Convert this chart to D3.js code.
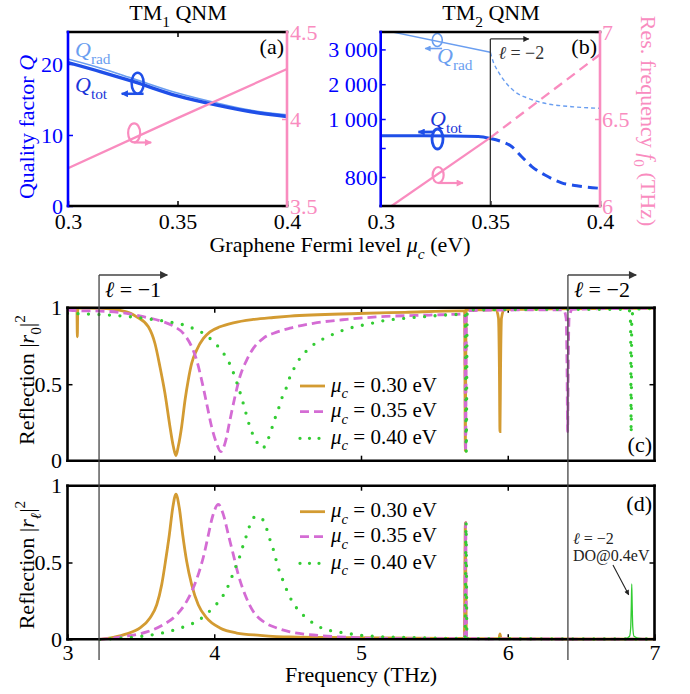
<!DOCTYPE html>
<html><head><meta charset="utf-8">
<script src="https://cdn.jsdelivr.net/npm/d3@7/dist/d3.min.js"></script>
<style>
body{margin:0;background:#fff;}
svg{display:block;}
text{font-family:"Liberation Serif","Times New Roman",Times,serif;}
</style></head><body>
<svg id="chart" width="690" height="694"></svg>
<script>
// ================= DATA =================
// Panel (a): TM1 QNM
const muA = [0.30, 0.315, 0.33, 0.35, 0.368, 0.383, 0.40];
const qTotA = [20.2, 18.9, 17.5, 15.5, 14.2, 13.3, 12.6];
const qRadA = [20.7, 19.4, 17.9, 15.9, 14.5, 13.5, 12.85];
const muF0A = [0.30, 0.35, 0.40];
const f0A = [3.717, 4.005, 4.287];
const qTicksA = [0, 10, 20];
const fTicksA = [3.5, 4, 4.5];
const muTicks = [0.3, 0.35, 0.4];

// Panel (b): TM2 QNM
const muQtotBSolid = [0.30, 0.32, 0.3445, 0.35];
const qTotBSolid = [942, 942, 940, 933];
const muQtotBDash = [0.35, 0.3552, 0.3597, 0.3643, 0.3689, 0.3749, 0.3825, 0.3901, 0.40];
const qTotBDash = [933, 922, 905, 870, 836, 807, 780, 769, 761];
const muQradBSolid = [0.30, 0.35];
const qRadBSolid = [3570, 2917];
const muQradBDash = [0.35, 0.3513, 0.3536, 0.3567, 0.3612, 0.3673, 0.3749, 0.3871, 0.40];
const qRadBDash = [2917, 2647, 2359, 2072, 1784, 1595, 1451, 1354, 1307];
const muF0BSolid = [0.30, 0.35];
const f0BSolid = [5.957, 6.393];
const muF0BDash = [0.35, 0.40];
const f0BDash = [6.393, 6.871];
const qTicksB = [800, 900, 1000, 2000, 3000];
const fTicksB = [6, 6.5, 7];

// Panel (c): |r0|^2
const fC30 = [3.00, 3.064, 3.067, 3.070, 3.221, 3.403, 3.471, 3.551, 3.596, 3.630, 3.664, 3.698, 3.721, 3.739, 3.755, 3.778, 3.801, 3.823, 3.846, 3.880, 3.926, 3.971, 4.039, 4.130, 4.266, 4.403, 4.516, 4.983, 5.30, 5.683, 5.706, 5.711, 5.716, 5.75, 5.92, 5.937, 5.943, 5.947, 5.951, 5.957, 5.975, 6.30, 6.70, 7.00];
const rC30 = [0.997, 0.997, 0.81, 0.997, 0.996, 0.973, 0.94, 0.875, 0.766, 0.614, 0.441, 0.224, 0.094, 0.033, 0.094, 0.224, 0.397, 0.528, 0.636, 0.723, 0.799, 0.842, 0.875, 0.901, 0.923, 0.936, 0.945, 0.962, 0.970, 0.979, 0.979, 0.063, 0.985, 0.986, 0.987, 0.93, 0.60, 0.19, 0.60, 0.93, 0.988, 0.992, 0.995, 0.996];
const fC35 = [3.00, 3.085, 3.221, 3.403, 3.517, 3.630, 3.721, 3.789, 3.846, 3.880, 3.914, 3.948, 3.982, 4.016, 4.044, 4.073, 4.107, 4.141, 4.175, 4.221, 4.266, 4.334, 4.425, 4.516, 4.675, 4.903, 5.13, 5.47, 5.69, 5.707, 5.713, 5.719, 5.80, 6.00, 6.38, 6.398, 6.404, 6.408, 6.412, 6.418, 6.44, 6.70, 7.00];
const rC35 = [0.985, 0.98, 0.978, 0.963, 0.941, 0.915, 0.880, 0.832, 0.745, 0.658, 0.527, 0.375, 0.222, 0.113, 0.059, 0.113, 0.266, 0.418, 0.549, 0.658, 0.734, 0.800, 0.840, 0.866, 0.898, 0.924, 0.941, 0.952, 0.959, 0.96, 0.06, 0.98, 0.982, 0.985, 0.986, 0.93, 0.60, 0.19, 0.60, 0.93, 0.99, 0.994, 0.996];
const fC40 = [3.00, 3.131, 3.278, 3.426, 3.574, 3.721, 3.801, 3.869, 3.937, 3.994, 4.046, 4.085, 4.119, 4.146, 4.169, 4.191, 4.212, 4.232, 4.255, 4.289, 4.328, 4.369, 4.414, 4.441, 4.464, 4.494, 4.516, 4.55, 4.589, 4.641, 4.698, 4.766, 4.834, 4.903, 4.982, 5.05, 5.13, 5.29, 5.425, 5.572, 5.71, 5.717, 5.724, 6.00, 6.50, 6.826, 6.837, 6.841, 6.845, 6.856, 7.00];
const rC40 = [0.963, 0.959, 0.952, 0.941, 0.924, 0.902, 0.885, 0.859, 0.826, 0.778, 0.724, 0.669, 0.604, 0.532, 0.467, 0.397, 0.325, 0.255, 0.190, 0.124, 0.081, 0.146, 0.277, 0.349, 0.418, 0.484, 0.549, 0.614, 0.676, 0.728, 0.774, 0.806, 0.837, 0.861, 0.880, 0.893, 0.911, 0.930, 0.941, 0.952, 0.957, 0.06, 0.985, 0.988, 0.99, 0.99, 0.90, 0.18, 0.90, 0.99, 0.995];

// Panel (d): |r_l|^2
const fD30 = [3.217, 3.312, 3.403, 3.494, 3.562, 3.608, 3.642, 3.671, 3.694, 3.717, 3.739, 3.762, 3.785, 3.812, 3.846, 3.891, 3.948, 4.039, 4.153, 4.312, 4.516, 4.903, 5.584, 5.704, 5.711, 5.718, 5.94, 5.947, 5.954, 6.40, 7.00];
const rD30 = [0.0, 0.013, 0.035, 0.074, 0.139, 0.225, 0.356, 0.529, 0.681, 0.855, 0.945, 0.855, 0.681, 0.508, 0.356, 0.225, 0.139, 0.074, 0.041, 0.026, 0.015, 0.011, 0.006, 0.006, 0.76, 0.005, 0.004, 0.035, 0.004, 0.002, 0.001];
const fD35 = [3.217, 3.403, 3.54, 3.653, 3.744, 3.812, 3.857, 3.898, 3.930, 3.960, 3.989, 4.028, 4.062, 4.096, 4.130, 4.164, 4.210, 4.266, 4.334, 4.425, 4.516, 4.675, 4.903, 5.13, 5.584, 5.706, 5.713, 5.72, 7.00];
const rD35 = [0.0, 0.02, 0.048, 0.095, 0.16, 0.247, 0.334, 0.442, 0.551, 0.681, 0.801, 0.878, 0.812, 0.681, 0.551, 0.420, 0.290, 0.181, 0.116, 0.074, 0.048, 0.028, 0.013, 0.006, 0.004, 0.004, 0.76, 0.004, 0.001];
const fD40 = [3.221, 3.369, 3.517, 3.664, 3.812, 3.880, 3.942, 3.994, 4.046, 4.085, 4.114, 4.141, 4.169, 4.191, 4.214, 4.237, 4.271, 4.30, 4.323, 4.357, 4.380, 4.403, 4.421, 4.443, 4.471, 4.498, 4.532, 4.573, 4.625, 4.687, 4.755, 4.83, 4.903, 4.982, 5.13, 5.357, 5.584, 5.709, 5.716, 5.722, 6.41, 7.00];
const rD40 = [0.0, 0.008, 0.021, 0.045, 0.088, 0.116, 0.160, 0.208, 0.264, 0.327, 0.392, 0.460, 0.525, 0.594, 0.659, 0.728, 0.794, 0.80, 0.789, 0.720, 0.648, 0.583, 0.518, 0.446, 0.377, 0.312, 0.245, 0.19, 0.141, 0.097, 0.065, 0.05, 0.039, 0.028, 0.017, 0.011, 0.006, 0.006, 0.76, 0.005, 0.003, 0.002];
const fDO = [6.41, 6.80, 6.83, 6.838, 6.842, 6.845, 6.848, 6.852, 6.86, 6.90, 7.00];
const rDO = [0.002, 0.004, 0.02, 0.08, 0.22, 0.36, 0.22, 0.08, 0.02, 0.006, 0.003];

const freqTicks = [3, 4, 5, 6, 7];
const rTicks = [0, 0.5, 1];
const legendLabels = ['0.30', '0.35', '0.40'];
const orderOnset = [3.215, 6.41]; // diffraction order onsets l=-1, l=-2

// ================= STYLE =================
const FONT = '"Liberation Serif","Times New Roman",Times,serif';
const BLUE = '#0000ff', QTOT = '#1f4fe8', QRAD = '#6a9ef0', PINK = '#f98cbf';
const GOLD = '#d39b32', MAG = '#d46cd4', GRN = '#33cc33', GRAY = '#444';

const svg = d3.select('#chart');
const defs = svg.append('defs');
function marker(id, color, w, h) {
  defs.append('marker').attr('id', id).attr('viewBox', '0 0 10 10')
    .attr('refX', 9).attr('refY', 5).attr('markerWidth', w).attr('markerHeight', h)
    .attr('markerUnits', 'userSpaceOnUse').attr('orient', 'auto')
    .append('path').attr('d', 'M0,0 L10,5 L0,10 z').attr('fill', color);
}
marker('arrK', '#333', 14, 8);
marker('arrK2', '#222', 11, 6);
marker('arrK3', '#222', 8, 5);
marker('arrBlue', QTOT, 10, 7);
marker('arrLB', QRAD, 9, 6);
marker('arrPink', PINK, 10, 7);

const PA = {x0: 68, x1: 287, y0: 32, y1: 206};
const PB = {x0: 380.7, x1: 600, y0: 32, y1: 206};
const PC = {x0: 67.5, x1: 654.5, y0: 307.7, y1: 460.7};
const PD = {x0: 67.5, x1: 654.5, y0: 485.7, y1: 639.3};

function clip(id, p, pad) {
  defs.append('clipPath').attr('id', id).append('rect')
    .attr('x', p.x0).attr('y', p.y0 - pad).attr('width', p.x1 - p.x0).attr('height', p.y1 - p.y0 + 2 * pad);
}
clip('clipA', PA, 0); clip('clipB', PB, 0); clip('clipC', PC, 2); clip('clipD', PD, 2);

const xA = d3.scaleLinear().domain([0.3, 0.4]).range([PA.x0, PA.x1]);
const yAL = d3.scaleLinear().domain([0, 24.5]).range([PA.y1, PA.y0]);
const yAR = d3.scaleLinear().domain([3.5, 4.5]).range([PA.y1, PA.y0]);
const xB = d3.scaleLinear().domain([0.3, 0.4]).range([PB.x0, PB.x1]);
const yBL = d3.scaleLinear().domain([700, 1000, 3500]).range([PB.y1, (PB.y0 + PB.y1) / 2, PB.y0]);
const yBR = d3.scaleLinear().domain([6, 7]).range([PB.y1, PB.y0]);
const xC = d3.scaleLinear().domain([3, 7]).range([PC.x0, PC.x1]);
const yC = d3.scaleLinear().domain([0, 1]).range([PC.y1, PC.y0]);
const yD = d3.scaleLinear().domain([0, 1]).range([PD.y1, PD.y0]);

function path(xs, ys, sx, sy) {
  return d3.line().x((d, i) => sx(xs[i])).y((d, i) => sy(ys[i])).curve(d3.curveMonotoneX)(xs);
}
function drawLine(g, xs, ys, sx, sy, st) {
  const p = g.append('path').attr('d', path(xs, ys, sx, sy)).attr('fill', 'none')
    .attr('stroke', st.color).attr('stroke-width', st.w);
  if (st.dash) p.attr('stroke-dasharray', st.dash);
  if (st.cap) p.attr('stroke-linecap', st.cap);
  return p;
}

function richText(sel, x, y, parts, o) {
  const t = sel.append('text').attr('x', x).attr('y', y).attr('font-size', o.size)
    .attr('fill', o.fill || '#000').attr('text-anchor', o.anchor || 'start');
  if (o.transform) t.attr('transform', o.transform);
  let shift = 0;
  parts.forEach(p => {
    const ts = t.append('tspan').text(p.t);
    const target = p.sub ? 0.3 * o.size : (p.sup ? -0.42 * o.size : 0);
    if (target !== shift) { ts.attr('dy', target - shift); shift = target; }
    if (p.sub || p.sup) ts.attr('font-size', o.size * 0.7);
    if (p.i) ts.attr('font-style', 'italic');
  });
  return t;
}

function styleAxis(g, color, size) {
  g.attr('font-family', FONT).attr('font-size', size);
  g.select('.domain').remove();
  g.selectAll('.tick line').attr('stroke', color).attr('stroke-width', 1.5);
  g.selectAll('.tick text').attr('fill', color);
}
function frameLine(x1, y1, x2, y2, color) {
  svg.append('line').attr('x1', x1).attr('y1', y1).attr('x2', x2).attr('y2', y2)
    .attr('stroke', color).attr('stroke-width', 2.6).attr('stroke-linecap', 'square');
}

// ================= PANEL (a) =================
const gA = svg.append('g');
gA.append('g').attr('transform', `translate(${PA.x0},0)`)
  .call(d3.axisLeft(yAL).tickValues(qTicksA).tickSize(-5).tickPadding(5).tickFormat(d3.format('d')))
  .call(g => styleAxis(g, BLUE, 22));
gA.append('g').attr('transform', `translate(${PA.x1},0)`)
  .call(d3.axisRight(yAR).tickValues(fTicksA).tickSize(-5).tickPadding(3).tickFormat(d => d))
  .call(g => styleAxis(g, PINK, 22));
gA.append('g').attr('transform', `translate(0,${PA.y1})`)
  .call(d3.axisBottom(xA).tickValues(muTicks).tickSize(-5).tickPadding(7.5).tickFormat(d => d))
  .call(g => styleAxis(g, '#000', 22));
gA.append('g').attr('transform', `translate(0,${PA.y0})`)
  .call(d3.axisTop(xA).tickValues([0.35]).tickSize(-5).tickFormat(''))
  .call(g => styleAxis(g, '#000', 22));
const cA = gA.append('g').attr('clip-path', 'url(#clipA)');
drawLine(cA, muA, qRadA, xA, yAL, {color: QRAD, w: 1.6});
drawLine(cA, muA, qTotA, xA, yAL, {color: QTOT, w: 3.4});
drawLine(cA, muF0A, f0A, xA, yAR, {color: PINK, w: 2.3});
frameLine(PA.x0, PA.y0, PA.x1, PA.y0, '#000');
frameLine(PA.x0, PA.y1, PA.x1, PA.y1, '#000');
frameLine(PA.x0, PA.y0, PA.x0, PA.y1, BLUE);
frameLine(PA.x1, PA.y0, PA.x1, PA.y1, PINK);

richText(svg, 178, 20, [{t: 'TM'}, {t: '1', sub: true}, {t: ' QNM'}], {size: 22, anchor: 'middle'});
richText(svg, 284, 54, [{t: '(a)'}], {size: 22, anchor: 'end'});
richText(svg, 75, 57, [{t: 'Q', i: true}, {t: 'rad', sub: true}], {size: 22, fill: QRAD});
richText(svg, 75, 92, [{t: 'Q', i: true}, {t: 'tot', sub: true}], {size: 22, fill: '#1a35d8'});

function curl(g, cx, cy, rx, ry, tx1, ty1, tx2, color, w, mk) {
  g.append('ellipse').attr('cx', cx).attr('cy', cy).attr('rx', rx).attr('ry', ry)
    .attr('fill', 'none').attr('stroke', color).attr('stroke-width', w);
  g.append('line').attr('x1', tx1).attr('y1', ty1).attr('x2', tx2).attr('y2', ty1)
    .attr('stroke', color).attr('stroke-width', w).attr('marker-end', `url(#${mk})`);
}
curl(gA, xA(0.3318), yAL(17.3), 6, 10.5, xA(0.3345), yAL(15.8), xA(0.3245), QTOT, 2.5, 'arrBlue');
curl(gA, xA(0.3302), yAR(3.92), 6, 9.5, xA(0.3302), yAR(3.865), xA(0.3380), PINK, 2.2, 'arrPink');

// ================= PANEL (b) =================
const gB = svg.append('g');
gB.append('g').attr('transform', `translate(${PB.x0},0)`)
  .call(d3.axisLeft(yBL).tickValues(qTicksB).tickSize(-5).tickPadding(3)
    .tickFormat(d => d === 900 ? '' : (d >= 1000 ? d3.format(',')(d).replace(',', ' ') : d)))
  .call(g => styleAxis(g, BLUE, 22));
gB.append('g').attr('transform', `translate(${PB.x1},0)`)
  .call(d3.axisRight(yBR).tickValues(fTicksB).tickSize(-5).tickPadding(2).tickFormat(d => d))
  .call(g => styleAxis(g, PINK, 22));
gB.append('g').attr('transform', `translate(0,${PB.y1})`)
  .call(d3.axisBottom(xB).tickValues(muTicks).tickSize(-5).tickPadding(7.5).tickFormat(d => d))
  .call(g => styleAxis(g, '#000', 22));
const cB = gB.append('g').attr('clip-path', 'url(#clipB)');
drawLine(cB, muQradBSolid, qRadBSolid, xB, yBL, {color: QRAD, w: 1.4});
drawLine(cB, muQradBDash, qRadBDash, xB, yBL, {color: QRAD, w: 1.4, dash: '4,3'});
drawLine(cB, muQtotBSolid, qTotBSolid, xB, yBL, {color: QTOT, w: 3});
drawLine(cB, muQtotBDash, qTotBDash, xB, yBL, {color: QTOT, w: 3, dash: '10,6'});
drawLine(cB, muF0BSolid, f0BSolid, xB, yBR, {color: PINK, w: 2.3});
drawLine(cB, muF0BDash, f0BDash, xB, yBR, {color: PINK, w: 2.3, dash: '10,6'});
// l = -2 onset marker
gB.append('line').attr('x1', xB(0.35)).attr('x2', xB(0.35)).attr('y1', PB.y1).attr('y2', yBR(6.96))
  .attr('stroke', '#333').attr('stroke-width', 1.3);
gB.append('line').attr('x1', xB(0.35)).attr('x2', xB(0.3675)).attr('y1', yBR(6.96)).attr('y2', yBR(6.96))
  .attr('stroke', '#333').attr('stroke-width', 1.3).attr('marker-end', 'url(#arrK2)');
richText(gB, xB(0.3537), 59, [{t: 'ℓ', i: true}, {t: ' = −2'}], {size: 18, fill: '#333'});
frameLine(PB.x0, PB.y0, PB.x1, PB.y0, '#000');
frameLine(PB.x0, PB.y1, PB.x1, PB.y1, '#000');
frameLine(PB.x0, PB.y0, PB.x0, PB.y1, BLUE);
frameLine(PB.x1, PB.y0, PB.x1, PB.y1, PINK);

richText(svg, 491, 20, [{t: 'TM'}, {t: '2', sub: true}, {t: ' QNM'}], {size: 22, anchor: 'middle'});
richText(svg, 597, 54, [{t: '(b)'}], {size: 22, anchor: 'end'});
richText(svg, 437, 63, [{t: 'Q', i: true}, {t: 'rad', sub: true}], {size: 22, fill: QRAD});
richText(svg, 430, 126, [{t: 'Q', i: true}, {t: 'tot', sub: true}], {size: 22, fill: '#1a35d8'});
curl(gB, xB(0.3258), 40, 5, 6.5, xB(0.328), 48.5, xB(0.3203), QRAD, 1.6, 'arrLB');
curl(gB, xB(0.3259), 139, 5.5, 10, xB(0.3245), 132, xB(0.3172), QTOT, 2.8, 'arrBlue');
curl(gB, xB(0.3262), 175, 5.5, 8, xB(0.3262), 183, xB(0.3375), PINK, 2.2, 'arrPink');

// shared labels top
richText(svg, 0, 0, [{t: 'Quality factor '}, {t: 'Q', i: true}],
  {size: 22, fill: BLUE, anchor: 'middle', transform: 'translate(34,127) rotate(-90)'});
richText(svg, 0, 0, [{t: 'Res. frequency '}, {t: 'f', i: true}, {t: '0', sub: true}, {t: ' (THz)'}],
  {size: 22, fill: PINK, anchor: 'middle', transform: 'translate(641,121) rotate(90)'});
richText(svg, 340, 252, [{t: 'Graphene Fermi level '}, {t: 'μ', i: true}, {t: 'c', i: true, sub: true}, {t: ' (eV)'}],
  {size: 22, anchor: 'middle'});

// ================= PANELS (c) and (d) =================
const styles = [
  {color: GOLD, w: 2.8},
  {color: MAG, w: 2.8, dash: '9,5'},
  {color: GRN, w: 3.3, dash: '0,10.5', cap: 'round'}
];
function panelAxes(P, yS, showX) {
  const g = svg.append('g');
  g.append('g').attr('transform', `translate(${P.x0},0)`)
    .call(d3.axisLeft(yS).tickValues(rTicks).tickSize(-5).tickPadding(5.5).tickFormat(d => d))
    .call(a => styleAxis(a, '#000', 22));
  g.append('g').attr('transform', `translate(${P.x1},0)`)
    .call(d3.axisRight(yS).tickValues([0.5]).tickSize(-5).tickFormat(''))
    .call(a => styleAxis(a, '#000', 22));
  g.append('g').attr('transform', `translate(0,${P.y0})`)
    .call(d3.axisTop(xC).tickValues([4, 5, 6]).tickSize(-5).tickFormat(''))
    .call(a => styleAxis(a, '#000', 22));
  g.append('g').attr('transform', `translate(0,${P.y1})`)
    .call(d3.axisBottom(xC).tickValues(showX ? freqTicks : [4, 5, 6]).tickSize(-5).tickPadding(5)
      .tickFormat(showX ? (d => d) : ''))
    .call(a => styleAxis(a, '#000', 22));
  return g;
}
panelAxes(PC, yC, false);
panelAxes(PD, yD, true);

const gC = svg.append('g').attr('clip-path', 'url(#clipC)');
drawLine(gC, fC30, rC30, xC, yC, styles[0]);
drawLine(gC, fC35, rC35, xC, yC, styles[1]);
drawLine(gC, fC40, rC40, xC, yC, styles[2]);
const gD = svg.append('g').attr('clip-path', 'url(#clipD)');
drawLine(gD, fD30, rD30, xC, yD, styles[0]);
drawLine(gD, fD35, rD35, xC, yD, styles[1]);
drawLine(gD, fD40, rD40, xC, yD, styles[2]);
drawLine(gD, fDO, rDO, xC, yD, {color: GRN, w: 1.3});

function frameBox(P) {
  frameLine(P.x0, P.y0, P.x1, P.y0, '#000');
  frameLine(P.x0, P.y1, P.x1, P.y1, '#000');
  frameLine(P.x0, P.y0, P.x0, P.y1, '#000');
  frameLine(P.x1, P.y0, P.x1, P.y1, '#000');
}
frameBox(PC); frameBox(PD);

function legend(yPos) {
  const g = svg.append('g');
  legendLabels.forEach((lab, i) => {
    const s = styles[i];
    const ln = g.append('line').attr('x1', 300).attr('x2', 325).attr('y1', yPos[i]).attr('y2', yPos[i])
      .attr('stroke', s.color).attr('stroke-width', s.w);
    if (s.dash) ln.attr('stroke-dasharray', i === 2 ? '0,9.5' : '9,5');
    if (s.cap) ln.attr('stroke-linecap', s.cap);
    richText(g, 331, yPos[i] + 5.5, [{t: 'μ', i: true}, {t: 'c', i: true, sub: true}, {t: ` = ${lab} eV`}], {size: 21});
  });
}
legend([386, 411.7, 438.3]);
legend([511.7, 536.7, 563.3]);

richText(svg, 652, 452, [{t: '(c)'}], {size: 22, anchor: 'end'});
richText(svg, 652, 511, [{t: '(d)'}], {size: 22, anchor: 'end'});

// diffraction-order onset markers
const topY = 275, botY = 660;
orderOnset.forEach((f, i) => {
  svg.append('line').attr('x1', xC(f)).attr('x2', xC(f)).attr('y1', botY).attr('y2', topY)
    .attr('stroke', GRAY).attr('stroke-width', 1.3);
  svg.append('line').attr('x1', xC(f)).attr('x2', xC(f + 0.465)).attr('y1', topY).attr('y2', topY)
    .attr('stroke', GRAY).attr('stroke-width', 1.3).attr('marker-end', 'url(#arrK)');
  richText(svg, xC(f) + 6, 297, [{t: 'ℓ', i: true}, {t: i === 0 ? ' = −1' : ' = −2'}], {size: 22});
});

// DO annotation in (d)
richText(svg, 573, 544, [{t: 'ℓ', i: true}, {t: ' = −2'}], {size: 16, fill: '#222'});
richText(svg, 573, 561, [{t: 'DO@0.4eV'}], {size: 16, fill: '#222'});
svg.append('line').attr('x1', xC(6.717)).attr('y1', yD(0.484)).attr('x2', xC(6.824)).attr('y2', yD(0.29))
  .attr('stroke', '#222').attr('stroke-width', 1.1).attr('marker-end', 'url(#arrK3)');

// y labels and x title
richText(svg, 0, 0, [{t: 'Reflection |'}, {t: 'r', i: true}, {t: '0', sub: true}, {t: '|'}, {t: '2', sup: true}],
  {size: 22, anchor: 'middle', transform: 'translate(34,380) rotate(-90)'});
richText(svg, 0, 0, [{t: 'Reflection |'}, {t: 'r', i: true}, {t: 'ℓ', i: true, sub: true}, {t: '|'}, {t: '2', sup: true}],
  {size: 22, anchor: 'middle', transform: 'translate(34,565) rotate(-90)'});
richText(svg, 361, 682, [{t: 'Frequency (THz)'}], {size: 22, anchor: 'middle'});
</script>
</body></html>
